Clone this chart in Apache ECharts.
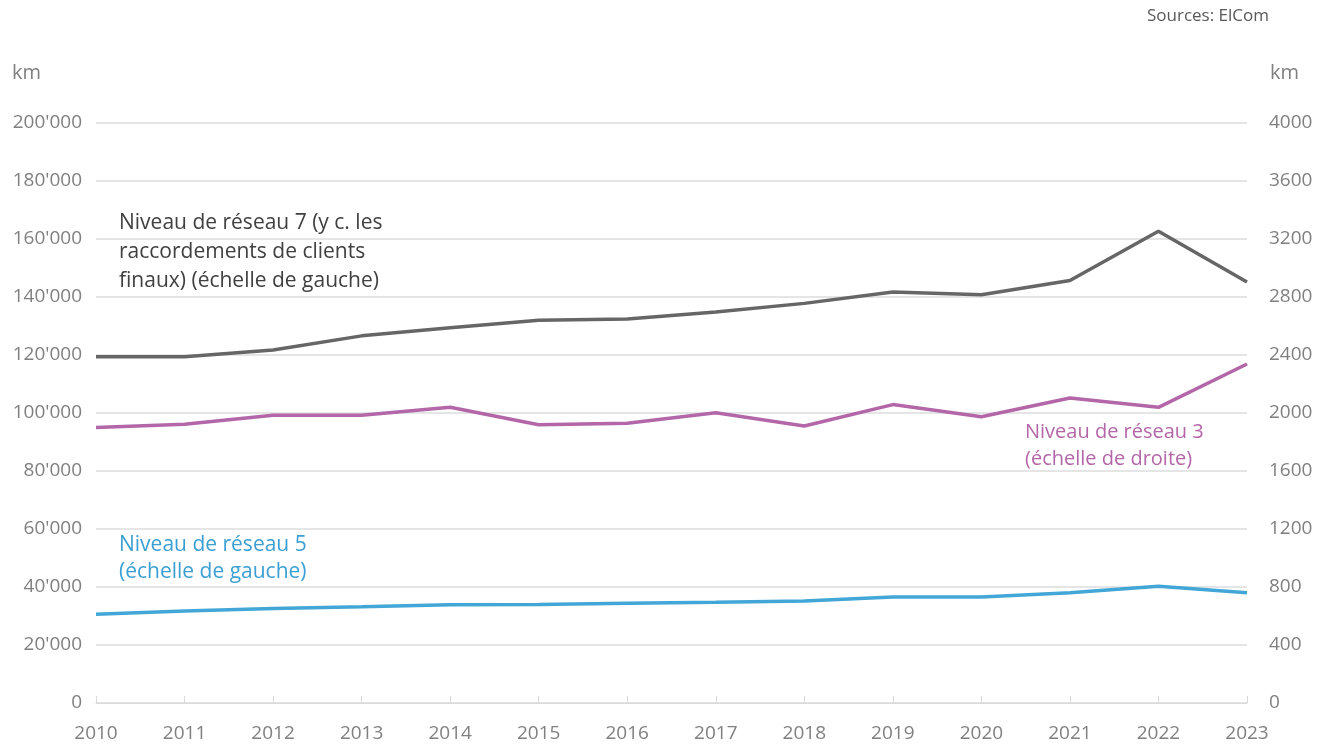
<!DOCTYPE html>
<html>
<head>
<meta charset="utf-8">
<script src="https://cdn.jsdelivr.net/npm/echarts@6/dist/echarts.min.js"></script>
<style>
html,body{margin:0;padding:0;background:#fff;}
#c{width:1328px;height:745px;}
</style>
</head>
<body>
<div id="c"></div>
<script>
const years = ['2010','2011','2012','2013','2014','2015','2016','2017','2018','2019','2020','2021','2022','2023'];
const level7 = [119400, 119400, 121700, 126600, 129400, 132000, 132400, 134800, 137800, 141700, 140800, 145700, 162700, 145200];
const level5 = [30600, 31700, 32600, 33200, 33900, 34000, 34400, 34700, 35200, 36550, 36550, 38000, 40300, 38000];
const level3 = [1900, 1922, 1984, 1984, 2040, 1919, 1929, 2002, 1910, 2058, 1974, 2103, 2039, 2338];
const leftTicks = {min: 0, max: 200000, interval: 20000};
const rightTicks = {min: 0, max: 4000, interval: 400};

const font = '"Open Sans", "Noto Sans", sans-serif';
const axisGrey = '#808080';
const chart = echarts.init(document.getElementById('c'), null, {renderer: 'canvas'});
function fmtThousands(v){
  return String(v).replace(/\B(?=(\d{3})+(?!\d))/g, "'");
}
chart.setOption({
  animation: false,
  textStyle: {fontFamily: font},
  grid: {left: 96, right: 81, top: 123, bottom: 42, containLabel: false},
  xAxis: {
    type: 'category',
    data: years,
    boundaryGap: false,
    axisLine: {lineStyle: {color: '#d9d9d9', width: 1}},
    axisTick: {inside: true, length: 7, lineStyle: {color: '#d9d9d9'}},
    axisLabel: {color: axisGrey, fontSize: 19, margin: 21, fontFamily: font}
  },
  yAxis: [
    {
      type: 'value', min: leftTicks.min, max: leftTicks.max, interval: leftTicks.interval,
      axisLine: {show: false}, axisTick: {show: false},
      splitLine: {lineStyle: {color: '#dcdcdc', width: 1.5}},
      axisLabel: {color: axisGrey, fontSize: 19, margin: 14, fontFamily: font, formatter: fmtThousands}
    },
    {
      type: 'value', min: rightTicks.min, max: rightTicks.max, interval: rightTicks.interval,
      position: 'right',
      axisLine: {show: false}, axisTick: {show: false},
      splitLine: {show: false},
      axisLabel: {color: axisGrey, fontSize: 19, margin: 22, fontFamily: font, formatter: function(v){ return String(v); }}
    }
  ],
  series: [
    {name: 'Niveau de réseau 7', type: 'line', yAxisIndex: 0, data: level7, symbol: 'none',
     lineStyle: {color: '#666666', width: 3.5}, z: 3},
    {name: 'Niveau de réseau 3', type: 'line', yAxisIndex: 1, data: level3, symbol: 'none',
     lineStyle: {color: '#b366a8', width: 3.5}, z: 2},
    {name: 'Niveau de réseau 5', type: 'line', yAxisIndex: 0, data: level5, symbol: 'none',
     lineStyle: {color: '#42a6d6', width: 3.5}, z: 2}
  ],
  graphic: [
    {type: 'text', left: 1147, top: 8, style: {text: 'Sources: ElCom', fill: '#595959', font: '17px ' + font}},
    {type: 'text', left: 12, top: 63, style: {text: 'km', fill: axisGrey, font: '20px ' + font}},
    {type: 'text', left: 1270, top: 63, style: {text: 'km', fill: axisGrey, font: '20px ' + font}},
    {type: 'text', left: 119, top: 209, style: {text: 'Niveau de réseau 7 (y c. les\nraccordements de clients\nfinaux) (échelle de gauche)', fill: '#404040', font: '21px ' + font, lineHeight: 29}},
    {type: 'text', left: 1025, top: 419, style: {text: 'Niveau de réseau 3\n(échelle de droite)', fill: '#b366a8', font: '20px ' + font, lineHeight: 27}},
    {type: 'text', left: 119, top: 532, style: {text: 'Niveau de réseau 5\n(échelle de gauche)', fill: '#3a9fd3', font: '21px ' + font, lineHeight: 27}}
  ]
});
</script>
</body>
</html>
